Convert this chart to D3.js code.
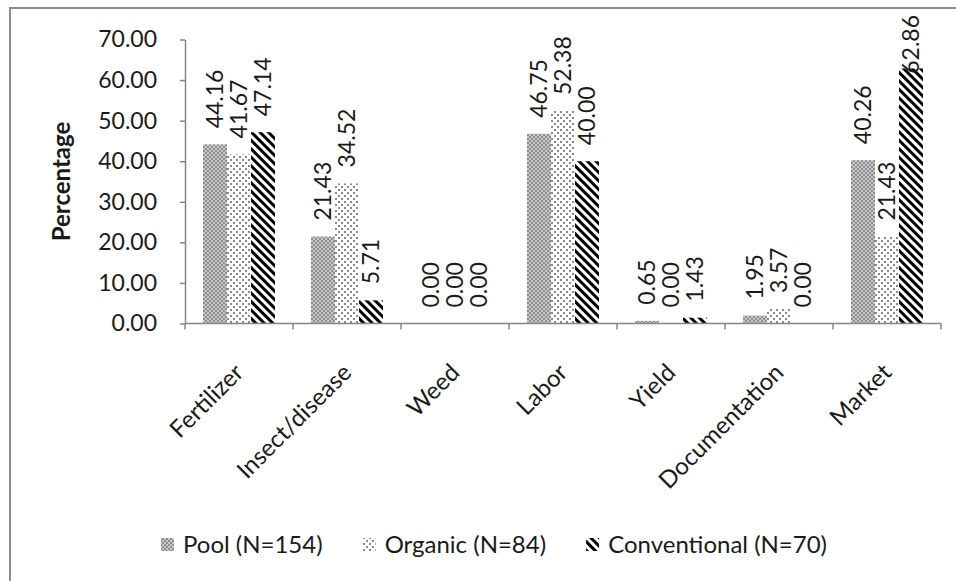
<!DOCTYPE html>
<html>
<head>
<meta charset="utf-8">
<script src="https://cdn.jsdelivr.net/npm/d3@7"></script>
<style>
  html, body { margin: 0; padding: 0; background: #fff; }
  svg { display: block; }
  text { font-family: Lato, "Open Sans", sans-serif; fill: #1a1a1a; }
</style>
</head>
<body>
<svg id="chart" width="956" height="581"></svg>
<script>
// ---- data ----
const categories = ["Fertilizer", "Insect/disease", "Weed", "Labor", "Yield", "Documentation", "Market"];
const seriesNames = ["Pool (N=154)", "Organic (N=84)", "Conventional (N=70)"];
const pool =         [44.16, 21.43, 0.00, 46.75, 0.65, 1.95, 40.26];
const organic =      [41.67, 34.52, 0.00, 52.38, 0.00, 3.57, 21.43];
const conventional = [47.14,  5.71, 0.00, 40.00, 1.43, 0.00, 62.86];
const yTicks = [0, 10, 20, 30, 40, 50, 60, 70];

const seriesValues = [pool, organic, conventional];
const seriesKeys = ["pool", "organic", "conv"];

const svg = d3.select("#chart");
const W = 956, H = 581;
const mLeft = 185, mRight = 941, mTop = 39.5, mBottom = 323.5;

// ---- patterns ----
const defs = svg.append("defs");
const pPool = defs.append("pattern").attr("id", "pat-pool")
  .attr("patternUnits", "userSpaceOnUse").attr("width", 4).attr("height", 4);
pPool.append("rect").attr("width", 4).attr("height", 4).attr("fill", "#c8c8c8");
pPool.append("rect").attr("x", 0).attr("y", 0).attr("width", 2).attr("height", 2).attr("fill", "#8e8e8e");
pPool.append("rect").attr("x", 2).attr("y", 2).attr("width", 2).attr("height", 2).attr("fill", "#8e8e8e");

const pOrg = defs.append("pattern").attr("id", "pat-organic")
  .attr("patternUnits", "userSpaceOnUse").attr("width", 6).attr("height", 6);
pOrg.append("rect").attr("width", 6).attr("height", 6).attr("fill", "#ffffff");
pOrg.append("rect").attr("x", 0).attr("y", 0).attr("width", 2).attr("height", 2).attr("fill", "#8a8a8a");
pOrg.append("rect").attr("x", 3).attr("y", 3).attr("width", 2).attr("height", 2).attr("fill", "#8a8a8a");

const pConv = defs.append("pattern").attr("id", "pat-conv")
  .attr("patternUnits", "userSpaceOnUse").attr("width", 6).attr("height", 6)
  .attr("patternTransform", "rotate(-45)");
pConv.append("rect").attr("width", 6).attr("height", 6).attr("fill", "#ffffff");
pConv.append("rect").attr("x", 0).attr("y", 0).attr("width", 3).attr("height", 6).attr("fill", "#000000");

const fills = { pool: "url(#pat-pool)", organic: "url(#pat-organic)", conv: "url(#pat-conv)" };

// ---- border ----
svg.append("path")
  .attr("d", `M10,${H + 5} L10,8 L${W + 5},8`)
  .attr("fill", "none").attr("stroke", "#8c8c8c").attr("stroke-width", 2);

// ---- scales ----
const x0 = d3.scaleBand().domain(categories).range([mLeft, mRight]).paddingInner(0).paddingOuter(0);
const x1 = d3.scaleBand().domain(seriesKeys).range([0, x0.bandwidth()]).paddingOuter(0.75).paddingInner(0);
const y = d3.scaleLinear().domain([0, 70]).range([mBottom, mTop]);

// ---- y axis ----
const yAxis = svg.append("g").attr("transform", `translate(${mLeft},0)`)
  .call(d3.axisLeft(y).tickValues(yTicks).tickFormat(d3.format(".2f")).tickSize(5).tickSizeOuter(0).tickPadding(23));
yAxis.select(".domain").attr("stroke", "#868686").attr("stroke-width", 1.5);
yAxis.selectAll(".tick line").attr("stroke", "#868686").attr("stroke-width", 1.5);
yAxis.selectAll(".tick text").attr("font-size", 23).attr("font-family", "Lato").attr("fill", "#1a1a1a");

// ---- y title ----
svg.append("text")
  .attr("transform", `translate(62,${(mTop + mBottom) / 2}) rotate(-90)`)
  .attr("text-anchor", "middle").attr("dy", "0.35em")
  .attr("font-size", 24).attr("font-weight", "bold")
  .text("Percentage");

// ---- bars ----
const groups = svg.append("g").selectAll("g").data(categories).join("g")
  .attr("transform", d => `translate(${x0(d)},0)`);

groups.selectAll("rect")
  .data((c, i) => seriesKeys.map((k, s) => ({ key: k, value: seriesValues[s][i] })))
  .join("rect")
  .attr("x", d => x1(d.key))
  .attr("width", x1.bandwidth())
  .attr("y", d => y(d.value))
  .attr("height", d => y(0) - y(d.value))
  .attr("fill", d => fills[d.key]);

// ---- data labels ----
groups.selectAll("text.val")
  .data((c, i) => seriesKeys.map((k, s) => ({ key: k, value: seriesValues[s][i] })))
  .join("text").attr("class", "val")
  .attr("font-size", 23)
  .attr("text-anchor", "start")
  .attr("dy", "0.35em")
  .text(d => d.value.toFixed(2))
  .each(function (d) {
    const L = this.getComputedTextLength();
    let ay = y(d.value) - 16;
    if (ay - L < 15) ay = 15 + L;
    const cx = x1(d.key) + x1.bandwidth() / 2;
    d3.select(this).attr("transform", `translate(${cx},${ay}) rotate(-90)`);
  });

// ---- x axis ----
svg.append("line")
  .attr("x1", mLeft).attr("x2", mRight).attr("y1", mBottom).attr("y2", mBottom)
  .attr("stroke", "#868686").attr("stroke-width", 1.5);
const boundaries = categories.map(c => x0(c)).concat([mRight]);
svg.append("g").selectAll("line").data(boundaries).join("line")
  .attr("x1", d => d).attr("x2", d => d)
  .attr("y1", mBottom).attr("y2", mBottom + 6)
  .attr("stroke", "#868686").attr("stroke-width", 1.5);

svg.append("g").selectAll("text").data(categories).join("text")
  .attr("font-size", 24)
  .attr("text-anchor", "end")
  .attr("transform", d => `translate(${x0(d) + x0.bandwidth() / 2 + 6},${374}) rotate(-45)`)
  .text(d => d);

// ---- legend ----
const legend = svg.append("g");
let lx = 161;
seriesKeys.forEach((k, i) => {
  legend.append("rect").attr("x", lx).attr("y", 538).attr("width", 13).attr("height", 13)
    .attr("fill", fills[k]);
  const t = legend.append("text").attr("x", lx + 22).attr("y", 553)
    .attr("font-size", 24).text(seriesNames[i]);
  lx = lx + 22 + t.node().getComputedTextLength() + 40;
});
</script>
</body>
</html>
